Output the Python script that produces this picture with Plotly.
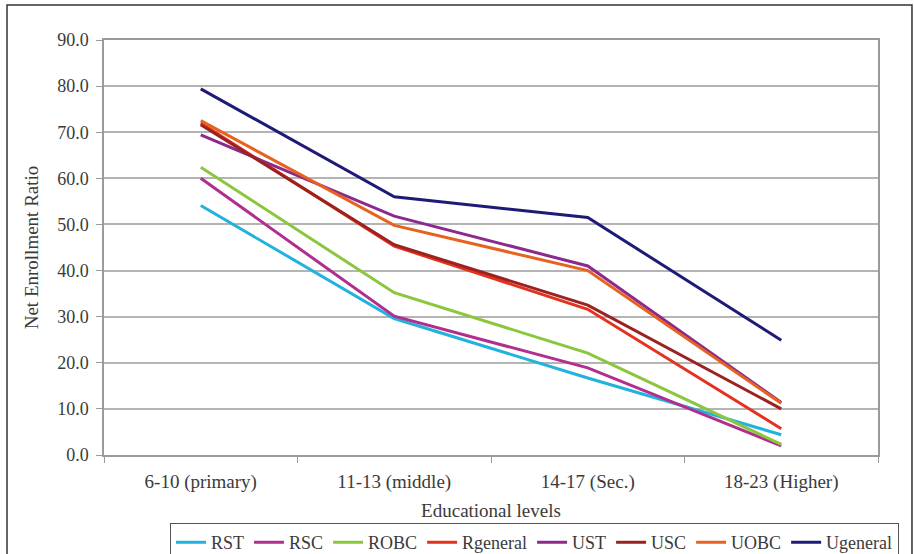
import plotly.graph_objects as go

categories = ["6-10 (primary)", "11-13 (middle)", "14-17 (Sec.)", "18-23 (Higher)"]

RST = [54.1, 29.6, 16.7, 4.4]
RSC = [60.0, 30.1, 18.9, 2.0]
ROBC = [62.4, 35.2, 22.1, 2.3]
Rgeneral = [72.0, 45.3, 31.6, 5.7]
UST = [69.4, 51.8, 41.0, 11.4]
USC = [71.6, 45.6, 32.5, 10.0]
UOBC = [72.5, 49.8, 40.0, 11.2]
Ugeneral = [79.4, 56.0, 51.5, 24.9]

series = [
    ("RST", RST, "#22B2DE"),
    ("RSC", RSC, "#B02E8E"),
    ("ROBC", ROBC, "#8CC63E"),
    ("Rgeneral", Rgeneral, "#E5321F"),
    ("UST", UST, "#8B2A8C"),
    ("USC", USC, "#9A2220"),
    ("UOBC", UOBC, "#E6621E"),
    ("Ugeneral", Ugeneral, "#1E1B78"),
]

font_family = "Liberation Serif, Times New Roman, serif"
text_color = "#3a3a3a"

fig = go.Figure()
for name, vals, col in series:
    fig.add_trace(go.Scatter(
        x=categories, y=vals, name=name, mode="lines",
        line=dict(color=col, width=3),
    ))

fig.update_layout(
    width=914, height=554,
    margin=dict(l=104, r=36, t=40, b=99, autoexpand=False),
    paper_bgcolor="white", plot_bgcolor="white",
    font=dict(family=font_family, size=18, color=text_color),
    showlegend=True,
    legend=dict(
        orientation="h", x=0.0853, xanchor="left", y=-0.164, yanchor="top",
        bgcolor="white", bordercolor="#555555", borderwidth=1,
        font=dict(family=font_family, size=18, color=text_color),
        tracegroupgap=0, itemwidth=30,
    ),
    xaxis=dict(
        type="category", range=[-0.5, 3.5],
        tickson="boundaries", ticks="outside", ticklen=6, tickcolor="#9a9a9a",
        ticklabelstandoff=8,
        showgrid=False, showline=True, linecolor="#9a9a9a", linewidth=1.5,
        mirror=True, zeroline=False,
        title=dict(text="Educational levels", standoff=12,
                   font=dict(family=font_family, size=19, color=text_color)),
        tickfont=dict(family=font_family, size=19, color=text_color),
    ),
    yaxis=dict(
        range=[0, 90], tickvals=[0, 10, 20, 30, 40, 50, 60, 70, 80, 90],
        tickformat=".1f", ticks="outside", ticklen=6, tickcolor="#9a9a9a",
        ticklabelstandoff=4,
        showgrid=True, gridcolor="#b4b4b4", gridwidth=1.5,
        showline=True, linecolor="#9a9a9a", linewidth=1.5, mirror=True,
        zeroline=False,
        title=dict(text="Net Enrollment Ratio", standoff=14,
                   font=dict(family=font_family, size=19, color=text_color)),
        tickfont=dict(family=font_family, size=18, color=text_color),
    ),
)

# outer chart frame
fig.add_shape(type="rect", xref="paper", yref="paper",
              x0=-0.1253, x1=1.0439, y0=-0.26, y1=1.0843,
              line=dict(color="#333333", width=1.5), layer="below")

fig.write_html("out.html")
